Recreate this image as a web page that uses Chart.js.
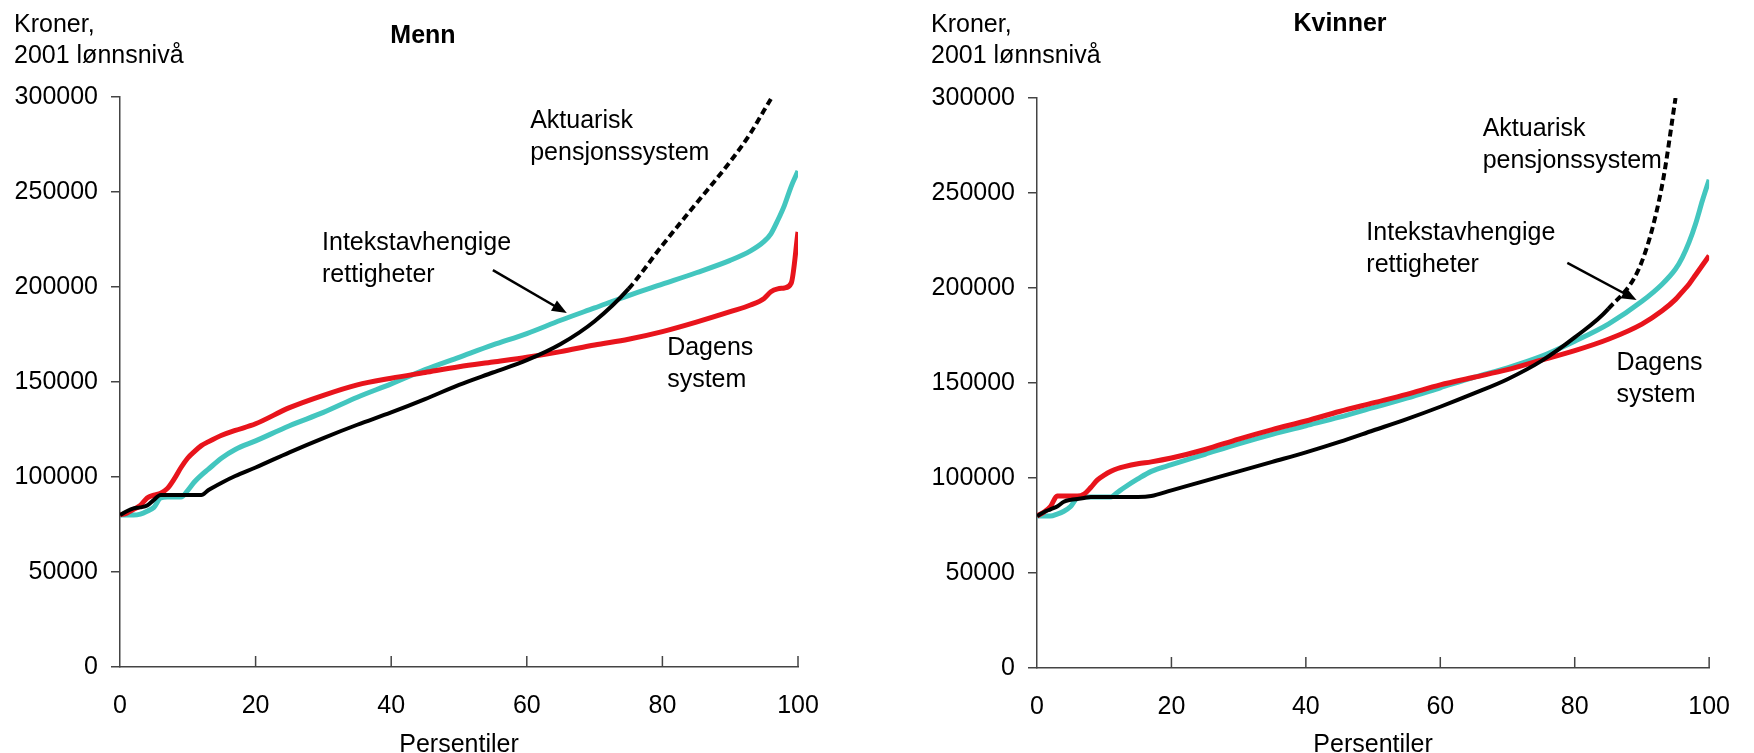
<!DOCTYPE html>
<html>
<head>
<meta charset="utf-8">
<script src="https://cdn.jsdelivr.net/npm/chart.js@4.4.1/dist/chart.umd.min.js"></script>
<style>
  html, body { margin: 0; padding: 0; background: #fff; }
  #wrap { position: relative; width: 1754px; height: 753px; overflow: hidden; }
  canvas { position: absolute; top: 0; }
  #menn { left: 0; }
  #kvinner { left: 877px; }
</style>
</head>
<body>
<div id="wrap">
  <canvas id="menn" width="877" height="753"></canvas>
  <canvas id="kvinner" width="877" height="753"></canvas>
</div>
<script>
// percentiles (x values)
const persentiler = [0, 1, 2, 3, 4, 5, 6, 7, 8, 9, 10, 11, 12, 13, 15, 17, 20, 25, 30, 35,
  40, 45, 50, 55, 60, 65, 70, 75, 80, 85, 90, 93, 95, 96, 97, 98, 99, 100];

const yTicks = [0, 50000, 100000, 150000, 200000, 250000, 300000];
const xTicks = [0, 20, 40, 60, 80, 100];

// Menn
const mennDagens = [80000, 81000, 83000, 85000, 89000, 90500, 91500, 94000, 99000, 105000,
  110000, 113500, 116500, 118500, 122000, 124500, 128000, 136500, 143000, 148500,
  152000, 155000, 158000, 160500, 163000, 166000, 169500, 172500, 176500, 181500,
  187000, 190500, 194000, 197500, 199000, 199500, 202000, 229000];
const mennInntekt = [80000, 80000, 80000, 80500, 82000, 84000, 89000, 89500, 89500, 89500,
  93000, 97500, 101000, 104000, 110000, 114500, 119000, 127000, 134000, 142000,
  149000, 156500, 163000, 169500, 175500, 182500, 189000, 195500, 201500, 207500,
  214000, 219000, 224000, 228000, 235000, 243000, 253000, 261000];
const mennAktuarisk = [80000, 82000, 83500, 84000, 85000, 88000, 90500, 90500, 90500, 90500,
  90500, 90500, 90500, 93000, 97000, 100500, 105000, 113000, 120500, 127500,
  134000, 141000, 148500, 155000, 161500, 170000, 182000, 199000, 222000, 244000,
  266000, 281000, 293000, 299000];

// Kvinner
const kvinnerDagens = [80000, 82000, 85000, 90500, 90500, 90500, 90500, 91500, 95000, 99000,
  101500, 103500, 105000, 106000, 107500, 108500, 110500, 115000, 120500, 125500,
  130000, 135000, 139500, 144000, 149000, 153000, 157000, 162000, 167000, 173000,
  181000, 188000, 194000, 198000, 202000, 207000, 212000, 217000];
const kvinnerInntekt = [80000, 80000, 80000, 81000, 82500, 85000, 89500, 90000, 90000, 90000,
  90000, 90000, 92500, 95000, 99500, 103500, 107000, 112500, 118000, 123000,
  127500, 132000, 137000, 142000, 147500, 153000, 158000, 164000, 172000, 181000,
  193000, 202000, 210000, 216000, 224000, 234000, 246000, 257000];
const kvinnerAktuarisk = [80000, 82000, 83500, 85000, 87500, 88500, 89000, 89500, 90000, 90000,
  90000, 90000, 90000, 90000, 90000, 90500, 93500, 98500, 103500, 108500,
  113500, 119000, 125000, 131000, 137500, 144500, 152000, 161500, 174000, 189000,
  214000, 254000, 300000];

const RED = '#e8141c';
const CYAN = '#43c6bf';
const FONT = '"Liberation Sans", Arial, sans-serif';

function points(values) {
  return values.map((v, i) => ({ x: persentiler[i], y: v }));
}

const panelText = {
  id: 'panelText',
  afterDraw(chart, args, opts) {
    const { ctx, chartArea, scales: { x, y } } = chart;
    ctx.save();

    // inward tick marks on the x axis
    ctx.strokeStyle = '#444';
    ctx.lineWidth = 1.5;
    xTicks.slice(1).forEach(v => {
      const px = x.getPixelForValue(v);
      ctx.beginPath();
      ctx.moveTo(px, chartArea.bottom);
      ctx.lineTo(px, chartArea.bottom - 11);
      ctx.stroke();
    });

    ctx.fillStyle = '#000';
    ctx.font = '25px ' + FONT;
    ctx.textAlign = 'left';
    ctx.textBaseline = 'alphabetic';
    ctx.fillText('Kroner,', chartArea.left - 106, 32);
    ctx.fillText('2001 lønnsnivå', chartArea.left - 106, 63);

    ctx.font = 'bold 25px ' + FONT;
    ctx.textAlign = 'center';
    ctx.fillText(opts.title, chartArea.left + 303, opts.titleY);

    ctx.font = '25px ' + FONT;
    ctx.fillText('Persentiler', (chartArea.left + chartArea.right) / 2, 752);

    ctx.textAlign = 'left';
    opts.notes.forEach(n => {
      const px = x.getPixelForValue(n.x);
      n.lines.forEach((line, i) => {
        ctx.fillText(line, px, y.getPixelForValue(n.y) + i * 32);
      });
    });

    // arrow to the income-dependent curve
    const a = opts.arrow;
    const x0 = x.getPixelForValue(a.from[0]), y0 = y.getPixelForValue(a.from[1]);
    const x1 = x.getPixelForValue(a.to[0]), y1 = y.getPixelForValue(a.to[1]);
    const ang = Math.atan2(y1 - y0, x1 - x0);
    ctx.strokeStyle = '#000';
    ctx.lineWidth = 2.5;
    ctx.beginPath();
    ctx.moveTo(x0, y0);
    ctx.lineTo(x1 - 10 * Math.cos(ang), y1 - 10 * Math.sin(ang));
    ctx.stroke();
    ctx.beginPath();
    ctx.moveTo(x1, y1);
    ctx.lineTo(x1 - 16 * Math.cos(ang - 0.38), y1 - 16 * Math.sin(ang - 0.38));
    ctx.lineTo(x1 - 16 * Math.cos(ang + 0.38), y1 - 16 * Math.sin(ang + 0.38));
    ctx.closePath();
    ctx.fill();

    ctx.restore();
  }
};

function makePanel(id, dagens, inntekt, aktuarisk, dashFrom, layout, text) {
  const ctx = document.getElementById(id).getContext('2d');
  return new Chart(ctx, {
    type: 'line',
    data: {
      datasets: [
        {
          label: 'Aktuarisk pensjonssystem',
          data: points(aktuarisk),
          borderColor: '#000',
          borderWidth: 4,
          segment: {
            borderDash: c => (c.p0.parsed.x >= dashFrom ? [7, 4] : undefined)
          }
        },
        {
          label: 'Dagens system',
          data: points(dagens),
          borderColor: RED,
          borderWidth: 5
        },
        {
          label: 'Intekstavhengige rettigheter',
          data: points(inntekt),
          borderColor: CYAN,
          borderWidth: 5
        }
      ]
    },
    options: {
      responsive: false,
      animation: false,
      layout: { padding: { top: layout.top, right: layout.right, left: 0, bottom: 0 } },
      elements: {
        point: { radius: 0 },
        line: { cubicInterpolationMode: 'monotone', borderCapStyle: 'butt' }
      },
      plugins: {
        legend: { display: false },
        tooltip: { enabled: false },
        panelText: text
      },
      scales: {
        x: {
          type: 'linear',
          min: 0,
          max: 100,
          afterFit: s => { s.height = layout.xHeight; },
          afterBuildTicks: s => { s.ticks = xTicks.map(v => ({ value: v })); },
          grid: { display: true, drawOnChartArea: false, drawTicks: false },
          border: { color: '#444', width: 1.5 },
          ticks: { color: '#000', font: { family: FONT, size: 25 }, padding: 24, maxRotation: 0 }
        },
        y: {
          min: 0,
          max: 300000,
          afterFit: s => { s.width = layout.yWidth; },
          afterBuildTicks: s => { s.ticks = yTicks.map(v => ({ value: v })); },
          grid: { drawOnChartArea: false, drawTicks: true, tickLength: 9, color: '#444', lineWidth: 1.5 },
          border: { color: '#444', width: 1.5 },
          ticks: { color: '#000', font: { family: FONT, size: 25 }, padding: 13, callback: v => String(v) }
        }
      }
    },
    plugins: [panelText]
  });
}

makePanel('menn', mennDagens, mennInntekt, mennAktuarisk, 75,
  { top: 97, right: 79, xHeight: 86, yWidth: 120 },
  {
    title: 'Menn',
    titleY: 43,
    notes: [
      { x: 60.5, y: 283700, lines: ['Aktuarisk', 'pensjonssystem'] },
      { x: 29.8, y: 219500, lines: ['Intekstavhengige', 'rettigheter'] },
      { x: 80.7, y: 164200, lines: ['Dagens', 'system'] }
    ],
    arrow: { from: [55, 208900], to: [65.9, 186300] }
  });

makePanel('kvinner', kvinnerDagens, kvinnerInntekt, kvinnerAktuarisk, 84,
  { top: 98, right: 38, xHeight: 85, yWidth: 160 },
  {
    title: 'Kvinner',
    titleY: 31,
    notes: [
      { x: 66.3, y: 280000, lines: ['Aktuarisk', 'pensjonssystem'] },
      { x: 49, y: 225300, lines: ['Intekstavhengige', 'rettigheter'] },
      { x: 86.2, y: 156800, lines: ['Dagens', 'system'] }
    ],
    arrow: { from: [78.9, 213200], to: [89.2, 193700] }
  });
</script>
</body>
</html>
